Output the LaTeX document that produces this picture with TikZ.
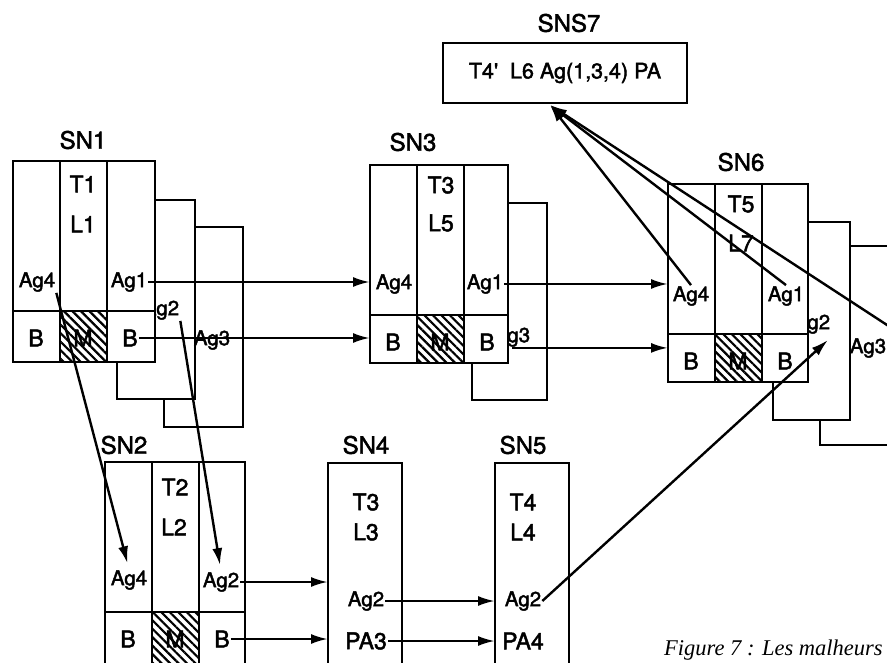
\documentclass[tikz,border=0pt]{standalone}
\usepackage{fontspec}
\newfontfamily\scanfont[FakeBold=2]{TeX Gyre Heros}
\newfontfamily\legendefont{Liberation Serif}
\usetikzlibrary{arrows.meta,patterns.meta}

\begin{document}
\begin{tikzpicture}[x=1pt,y=-1pt,
  boite/.style={draw,fill=white,line width=2.6pt,inner sep=0pt,outer sep=0pt,anchor=north west},
  titre/.style={font=\scanfont\fontsize{24}{27}\selectfont,inner sep=1pt},
  lettre/.style={font=\scanfont\fontsize{23}{26}\selectfont,inner sep=1pt},
  agent/.style={font=\scanfont\fontsize{20.5}{23}\selectfont,inner sep=1pt},
  trait/.style={line width=2.6pt},
  hachure/.style={pattern={Lines[angle=-45,distance=6pt,line width=2.2pt]}},
  fleche/.style={line width=2.4pt,-{Latex[length=17pt,width=10pt]}}]

\useasboundingbox (0,0) rectangle (887,663);
\clip (0,0) rectangle (887,663);

% Pile SN1
\node[boite,minimum width=79pt,minimum height=200pt] (sn1p3) at (164,227) {};
\node[boite,minimum width=78pt,minimum height=199pt] (sn1p2) at (117,200) {};
\node[agent] (sn1ag3) at (212,340) {Ag3};
\node[agent] (sn1ag2) at (161,310) {Ag2};
\node[boite,minimum width=142pt,minimum height=201pt] (sn1) at (13,161) {};

% Pile SN3
\node[boite,minimum width=75pt,minimum height=197pt] (sn3p2) at (472,203) {};
\node[agent] (sn3ag3) at (512,337) {Ag3};
\node[boite,minimum width=138pt,minimum height=198pt] (sn3) at (370,165) {};

% Pile SN6
\node[boite,minimum width=90pt,minimum height=199pt] (sn6p3) at (820,246) {};
\node[agent] (sn6ag3) at (868,348) {Ag3};
\node[boite,minimum width=77pt,minimum height=198pt] (sn6p2) at (773,222) {};
\node[agent] (sn6ag2) at (812,324) {Ag2};
\node[boite,minimum width=140pt,minimum height=198pt] (sn6) at (668,184) {};

% SN2, SN4, SN5, SNS7
\node[boite,minimum width=140pt,minimum height=203pt] (sn2) at (105,462) {};
\node[boite,minimum width=74pt,minimum height=210pt] (sn4) at (328,463) {};
\node[boite,minimum width=74pt,minimum height=210pt] (sn5) at (495,463) {};
\node[boite,minimum width=244pt,minimum height=60pt,font=\scanfont\fontsize{21.5}{24}\selectfont] (sns7) at (443,43)
  {T4\textquotesingle\ \ L6 Ag(1,3,4) PA};

% Cases B M B
\foreach \b in {sn1,sn3,sn6,sn2} {
  \fill[hachure] ([xshift=47pt,yshift=-150pt]\b.north west) rectangle ([xshift=94pt]\b.south west);
  \draw[trait] ([xshift=47pt]\b.north west) -- ([xshift=47pt]\b.south west);
  \draw[trait] ([xshift=94pt]\b.north west) -- ([xshift=94pt]\b.south west);
  \draw[trait] ([yshift=-150pt]\b.north west) -- ([yshift=-150pt]\b.north east);
  \node[lettre] (\b-b1) at ([xshift=23pt,yshift=-177pt]\b.north west) {B};
  \node[lettre] (\b-m) at ([xshift=70pt,yshift=-177pt]\b.north west) {M};
  \node[lettre] (\b-b2) at ([xshift=117pt,yshift=-177pt]\b.north west) {B};
}

% Textes
\node[titre] (titre1) at (83,140) {SN1};
\node[lettre] (sn1t) at (83,184) {T1};
\node[lettre] (sn1l) at (83,224) {L1};
\node[agent] (sn1ag4) at (37,282) {Ag4};
\node[agent] (sn1ag1) at (129,282) {Ag1};

\node[titre] (titre3) at (413,142) {SN3};
\node[lettre] (sn3t) at (441,185) {T3};
\node[lettre] (sn3l) at (441,223) {L5};
\node[agent] (sn3ag4) at (394,284) {Ag4};
\node[agent] (sn3ag1) at (485,284) {Ag1};

\node[titre] (titre6) at (741,162) {SN6};
\node[lettre] (sn6t) at (741,204) {T5};
\node[lettre] (sn6l) at (741,243) {L7};
\node[agent] (sn6ag4) at (691,296) {Ag4};
\node[agent] (sn6ag1) at (786,296) {Ag1};

\node[titre] (titre2) at (124,445) {SN2};
\node[lettre] (sn2t) at (175,487) {T2};
\node[lettre] (sn2l) at (174,527) {L2};
\node[agent] (sn2ag4) at (129,580) {Ag4};
\node[agent] (sn2ag2) at (221,582) {Ag2};

\node[titre] (titre4) at (366,445) {SN4};
\node[lettre] (sn4t) at (366,502) {T3};
\node[lettre] (sn4l) at (366,532) {L3};
\node[agent] (sn4ag2) at (366,601) {Ag2};
\node[lettre] (sn4pa) at (366,641) {PA3};

\node[titre] (titre5) at (523,445) {SN5};
\node[lettre] (sn5t) at (523,502) {T4};
\node[lettre] (sn5l) at (523,532) {L4};
\node[agent] (sn5ag2) at (523,601) {Ag2};
\node[lettre] (sn5pa) at (523,641) {PA4};

\node[titre] (titre7) at (569,23) {SNS7};

\node[font=\legendefont\itshape\fontsize{22.5}{26}\selectfont,anchor=base west,inner sep=0pt] (legende) at (664,655)
  {Figure 7 : Les malheurs};

% Fleches
\draw[fleche] (sn1ag1.east) -- (sn1ag1.east -| sn3.west);
\draw[fleche] (sn1-b2.east) -- (sn1-b2.east -| sn3.west);
\draw[fleche,shorten >=6pt] (sn1ag4.south east) -- (sn2ag4.north);
\draw[fleche,shorten >=6pt] (sn1ag2.south east) -- (sn2ag2.north);
\draw[fleche] (sn3ag1.east) -- (sn3ag1.east -| sn6.west);
\draw[fleche] (sn3ag3.south) -- (sn3ag3.south -| sn6.west);
\draw[fleche] (sn2ag2.east) -- (sn2ag2.east -| sn4.west);
\draw[fleche] (sn2-b2.east) -- (sn2-b2.east -| sn4.west);
\draw[fleche] (sn4ag2.east) -- (sn4ag2.east -| sn5.west);
\draw[fleche] (sn4pa.east) -- (sn4pa.east -| sn5.west);

\coordinate (cible6) at (828,340);
\draw[fleche] (sn5ag2.east) -- (cible6);

\coordinate (pointe7) at (550,105);
\coordinate (horscadre) at (910,340);
\foreach \a in {sn6ag4.north, sn6ag1.north, horscadre}
  \draw[fleche] (\a) -- (pointe7);
\end{tikzpicture}
\end{document}
